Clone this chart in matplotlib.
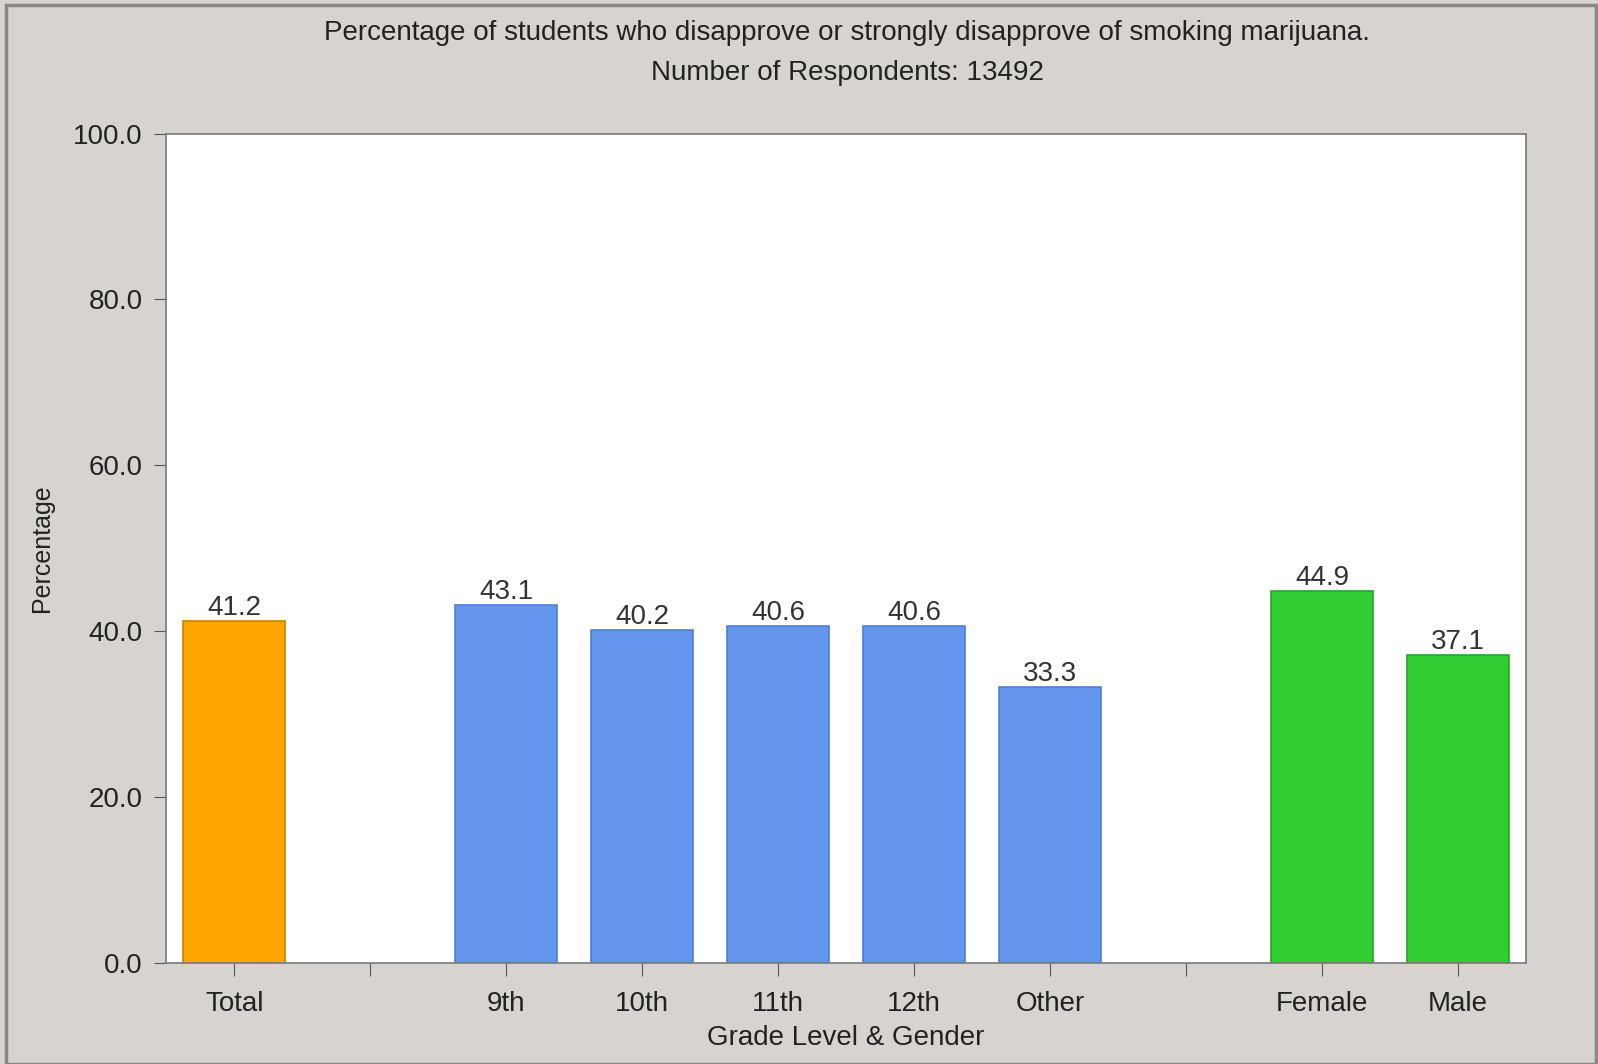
import matplotlib.pyplot as plt
from matplotlib.patches import Rectangle

plt.rcParams['font.family'] = ['Liberation Sans', 'DejaVu Sans']

# Datos del grafico
categorias = ["Total", "", "9th", "10th", "11th", "12th", "Other", "", "Female", "Male"]
valores = [41.2, None, 43.1, 40.2, 40.6, 40.6, 33.3, None, 44.9, 37.1]
colores = ["#FFA500", None, "#6495ED", "#6495ED", "#6495ED", "#6495ED", "#6495ED",
           None, "#32CD32", "#32CD32"]
bordes = ["#c88200", None, "#4f7fd6", "#4f7fd6", "#4f7fd6", "#4f7fd6", "#4f7fd6",
          None, "#25a825", "#25a825"]
yticks = [0, 20, 40, 60, 80, 100]

fig = plt.figure(figsize=(15.98, 10.64), dpi=100, facecolor="#d7d3ce")
ax = fig.add_axes([0.104, 0.095, 0.851, 0.7795])

# borde de la ventana
fig.patches.append(Rectangle((0.004, 0.0), 0.995, 0.995, transform=fig.transFigure,
                             fill=False, edgecolor="#8a8884", linewidth=2.5))

for i, v in enumerate(valores):
    if v is None:
        continue
    ax.bar(i, v, width=0.75, color=colores[i], edgecolor=bordes[i], linewidth=1.2)
    ax.text(i, v, f"{v:.1f}", ha="center", va="bottom", fontsize=20, color="#333333")

ax.set_xlim(-0.5, len(categorias) - 0.5)
ax.set_ylim(0, 100)
ax.set_xticks(range(len(categorias)))
ax.set_xticklabels(categorias, fontsize=20, color="#222222")
ax.set_yticks(yticks)
ax.set_yticklabels([f"{t:.1f}" for t in yticks], fontsize=20, color="#222222")
ax.tick_params(axis="x", direction="out", length=9, color="#555555", pad=11)
ax.tick_params(axis="y", direction="out", length=9, color="#555555", pad=8)

for s in ax.spines.values():
    s.set_color("#7a7a7a")
    s.set_linewidth(1.2)

ax.set_xlabel("Grade Level & Gender", fontsize=20, color="#222222", labelpad=6)
ax.set_ylabel("Percentage", fontsize=18, color="#222222", labelpad=14)

fig.text(0.53, 0.969, "Percentage of students who disapprove or strongly disapprove of smoking marijuana.",
         ha="center", va="center", fontsize=20, color="#222222")
fig.text(0.53, 0.931, "Number of Respondents: 13492", ha="center", va="center",
         fontsize=20, color="#222222")

fig.savefig("out.png", dpi=100, facecolor=fig.get_facecolor())
